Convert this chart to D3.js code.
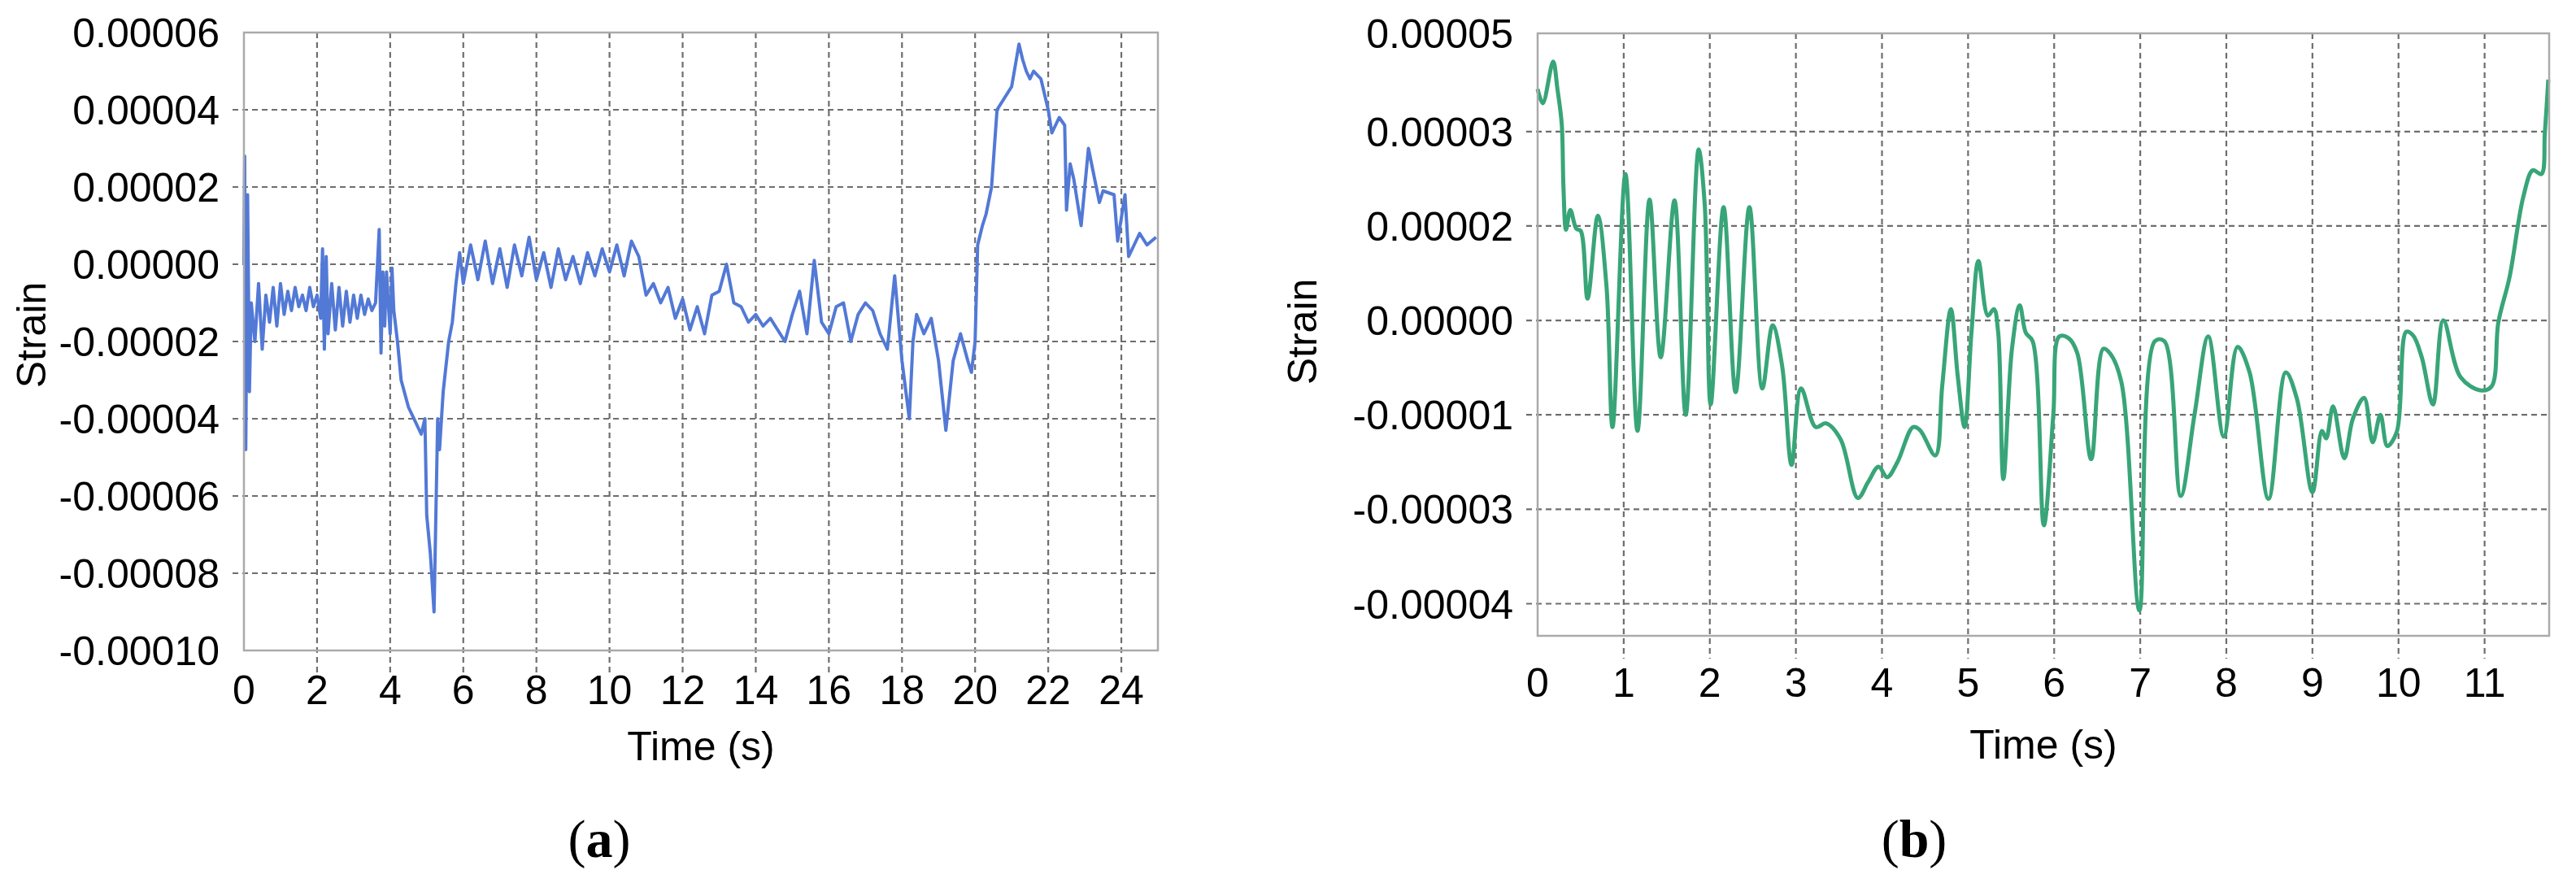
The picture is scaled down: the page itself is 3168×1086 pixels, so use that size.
<!DOCTYPE html>
<html><head><meta charset="utf-8">
<script src="https://cdn.jsdelivr.net/npm/d3@7"></script>
<style>body{margin:0;background:#fff}text{font-family:"Liberation Sans",Arial,sans-serif}</style>
</head><body>
<svg id="c" width="3168" height="1086"></svg>
<script>
// Panel (a): time (s), strain (x1e-5)
const aTime = [0,0.02,0.05,0.1,0.15,0.2,0.3,0.4,0.5,0.6,0.7,0.8,0.9,1.0,1.1,1.2,1.3,1.4,1.5,1.6,1.7,1.8,1.9,2.0,2.1,2.15,2.2,2.25,2.3,2.4,2.5,2.6,2.7,2.8,2.9,3.0,3.1,3.2,3.3,3.4,3.5,3.6,3.7,3.75,3.8,3.85,3.9,4.0,4.05,4.1,4.2,4.3,4.5,4.7,4.85,4.95,5.0,5.1,5.2,5.3,5.35,5.45,5.6,5.7,5.8,5.9,6.0,6.2,6.4,6.6,6.8,7.0,7.2,7.4,7.6,7.8,8.0,8.2,8.4,8.6,8.8,9.0,9.2,9.4,9.6,9.8,10.0,10.2,10.4,10.6,10.8,11.0,11.2,11.4,11.6,11.8,12.0,12.2,12.4,12.6,12.8,13.0,13.2,13.4,13.6,13.8,14.0,14.2,14.4,14.6,14.8,15.0,15.2,15.4,15.6,15.8,16.0,16.2,16.4,16.6,16.8,17.0,17.2,17.4,17.6,17.8,18.0,18.2,18.3,18.4,18.6,18.8,19.0,19.2,19.4,19.6,19.8,19.9,20.0,20.07,20.2,20.3,20.45,20.6,20.8,21.0,21.2,21.3,21.4,21.5,21.6,21.8,22.0,22.1,22.3,22.45,22.5,22.6,22.7,22.9,23.1,23.4,23.5,23.8,23.9,24.1,24.2,24.5,24.7,24.95];
const aStrain = [0,2.8,-4.8,1.8,-3.3,-1.0,-2.0,-0.5,-2.2,-0.8,-1.5,-0.6,-1.6,-0.5,-1.3,-0.7,-1.2,-0.6,-1.1,-0.8,-1.2,-0.6,-1.1,-0.8,-1.4,0.4,-2.2,0.2,-1.8,-0.5,-1.7,-0.6,-1.6,-0.7,-1.5,-0.8,-1.4,-0.8,-1.3,-0.9,-1.2,-1.0,0.9,-2.3,-0.2,-1.6,-0.2,-1.8,-0.1,-1.2,-2.0,-3.0,-3.7,-4.1,-4.4,-4.0,-6.5,-7.5,-9.0,-4.0,-4.8,-3.3,-2.0,-1.5,-0.5,0.3,-0.5,0.5,-0.4,0.6,-0.5,0.4,-0.6,0.5,-0.3,0.7,-0.4,0.3,-0.6,0.4,-0.4,0.2,-0.5,0.3,-0.3,0.4,-0.2,0.5,-0.3,0.6,0.2,-0.8,-0.5,-1.0,-0.6,-1.4,-0.9,-1.7,-1.1,-1.8,-0.8,-0.7,0.0,-1.0,-1.1,-1.5,-1.3,-1.6,-1.4,-1.7,-2.0,-1.3,-0.7,-1.8,0.1,-1.5,-1.8,-1.1,-1.0,-2.0,-1.3,-1.0,-1.2,-1.8,-2.2,-0.3,-2.5,-4.0,-2.0,-1.3,-1.8,-1.4,-2.5,-4.3,-2.5,-1.8,-2.5,-2.8,-2.0,0.5,1.0,1.3,2.0,4.0,4.3,4.6,5.7,5.3,5.0,4.8,5.0,4.8,4.0,3.4,3.8,3.6,1.4,2.6,2.2,1.0,3.0,1.6,1.9,1.8,0.6,1.8,0.2,0.8,0.5,0.7,0.6];
// Panel (b): time (s), strain (x1e-5, in grid units)
const bTime = [0,0.06,0.18,0.23,0.28,0.3,0.33,0.38,0.45,0.5,0.58,0.7,0.8,0.87,1.02,1.16,1.3,1.43,1.59,1.72,1.87,1.94,2.01,2.16,2.3,2.46,2.61,2.73,2.84,2.95,3.06,3.23,3.35,3.52,3.72,3.84,3.96,4.06,4.18,4.36,4.44,4.62,4.70,4.80,4.88,4.96,5.04,5.12,5.23,5.3,5.35,5.41,5.51,5.6,5.67,5.75,5.88,5.99,6.06,6.17,6.27,6.43,6.57,6.65,6.78,6.99,7.17,7.28,7.47,7.63,7.79,7.97,8.13,8.27,8.49,8.69,8.82,9.0,9.11,9.16,9.24,9.37,9.47,9.6,9.7,9.79,9.87,9.98,10.09,10.17,10.27,10.4,10.52,10.72,10.95,11.08,11.16,11.29,11.45,11.56,11.66,11.7,11.74];
const bStrain = [2.45,2.3,2.74,2.45,2.08,1.41,0.96,1.17,0.97,0.95,0.23,1.11,0.36,-1.13,1.55,-1.17,1.28,-0.39,1.27,-1.0,1.81,1.24,-0.89,1.2,-0.76,1.2,-0.72,-0.05,-0.48,-1.53,-0.72,-1.13,-1.09,-1.26,-1.88,-1.71,-1.55,-1.66,-1.5,-1.13,-1.16,-1.43,-0.69,0.12,-0.59,-1.13,-0.12,0.63,0.05,0.12,-0.13,-1.68,-0.3,0.16,-0.13,-0.22,-2.17,-1.0,-0.17,-0.19,-0.35,-1.47,-0.3,-0.35,-0.65,-3.07,-0.22,-0.22,-1.86,-1.0,-0.17,-1.23,-0.28,-0.55,-1.89,-0.55,-0.83,-1.82,-1.17,-1.25,-0.91,-1.46,-1.04,-0.82,-1.29,-1.0,-1.33,-1.18,-0.12,-0.16,-0.39,-0.89,0.0,-0.6,-0.74,-0.7,-0.02,0.46,1.31,1.59,1.55,1.99,2.55];
const aXTicks = [0,2,4,6,8,10,12,14,16,18,20,22,24];
const aYTicks = [6,4,2,0,-2,-4,-6,-8,-10];
const aYLabels = ["0.00006","0.00004","0.00002","0.00000","-0.00002","-0.00004","-0.00006","-0.00008","-0.00010"];
const bXTicks = [0,1,2,3,4,5,6,7,8,9,10,11];
const bYTicks = [3.04,2,1,0,-1,-2,-3];
const bYLabels = ["0.00005","0.00003","0.00002","0.00000","-0.00001","-0.00003","-0.00004"];

const svg = d3.select("#c");
function panel(o){
  const x = d3.scaleLinear().domain(o.xd).range([o.l,o.r]);
  const y = d3.scaleLinear().domain(o.yd).range([o.b,o.t]);
  const g = svg.append("g");
  g.selectAll(".vg").data(o.xt.filter(v=>v>o.xd[0])).join("line")
    .attr("x1",d=>x(d)).attr("x2",d=>x(d)).attr("y1",o.t).attr("y2",o.b+28)
    .attr("stroke","#6e6e6e").attr("stroke-width",2.2).attr("stroke-dasharray","7,5");
  g.selectAll(".hg").data(o.yt.filter(v=>v<o.yd[1]&&v>o.yd[0])).join("line")
    .attr("y1",d=>y(d)).attr("y2",d=>y(d)).attr("x1",o.l-14).attr("x2",o.r)
    .attr("stroke","#6e6e6e").attr("stroke-width",2.2).attr("stroke-dasharray","7,5");
  g.append("path").datum(o.xs.map((t,i)=>[t,o.ys[i]]))
    .attr("d",d3.line().curve(o.curve).x(d=>x(d[0])).y(d=>y(d[1])))
    .attr("fill","none").attr("stroke",o.color).attr("stroke-width",o.lw).attr("stroke-linejoin","round");
  g.append("rect").attr("x",o.l).attr("y",o.t).attr("width",o.r-o.l).attr("height",o.b-o.t)
    .attr("fill","none").attr("stroke","#aaaaaa").attr("stroke-width",2.5);
  g.selectAll(".xl").data(o.xt).join("text").attr("x",d=>x(d)).attr("y",o.xly)
    .attr("text-anchor","middle").attr("font-size",o.fs).text(d=>d);
  g.selectAll(".yl").data(o.yt).join("text").attr("x",o.l-30).attr("y",d=>y(d))
    .attr("dy","0.36em").attr("text-anchor","end").attr("font-size",o.fs).text((d,i)=>o.yl[i]);
  g.append("text").attr("x",(o.l+o.r)/2).attr("y",o.tty).attr("text-anchor","middle")
    .attr("font-size",o.fs).text("Time (s)");
  g.append("text").attr("transform",`translate(${o.sx},${o.sy}) rotate(-90)`)
    .attr("text-anchor","middle").attr("font-size",o.fs).text("Strain");
  const p = g.append("text").attr("x",o.px).attr("y",1054).attr("text-anchor","middle")
    .attr("font-size",66).style("font-family","'Liberation Serif','Times New Roman',serif");
  p.append("tspan").text("(");
  p.append("tspan").attr("font-weight","bold").text(o.letter);
  p.append("tspan").text(")");
}
panel({xd:[0,25],yd:[-10,6],l:300,r:1424,t:40,b:800,xt:aXTicks,yt:aYTicks,yl:aYLabels,
  xs:aTime,ys:aStrain,color:"#5279d6",lw:4,curve:d3.curveLinear,fs:50,xly:866,tty:935,sx:56,sy:412,px:737,letter:"a"});
panel({xd:[0,11.75],yd:[-3.34,3.04],l:1891,r:3135,t:41,b:782,xt:bXTicks,yt:bYTicks,yl:bYLabels,
  xs:bTime,ys:bStrain,color:"#38a578",lw:5,curve:d3.curveCatmullRom.alpha(0.5),fs:50,xly:857,tty:933,sx:1619,sy:408,px:2354,letter:"b"});
</script>
</body></html>
